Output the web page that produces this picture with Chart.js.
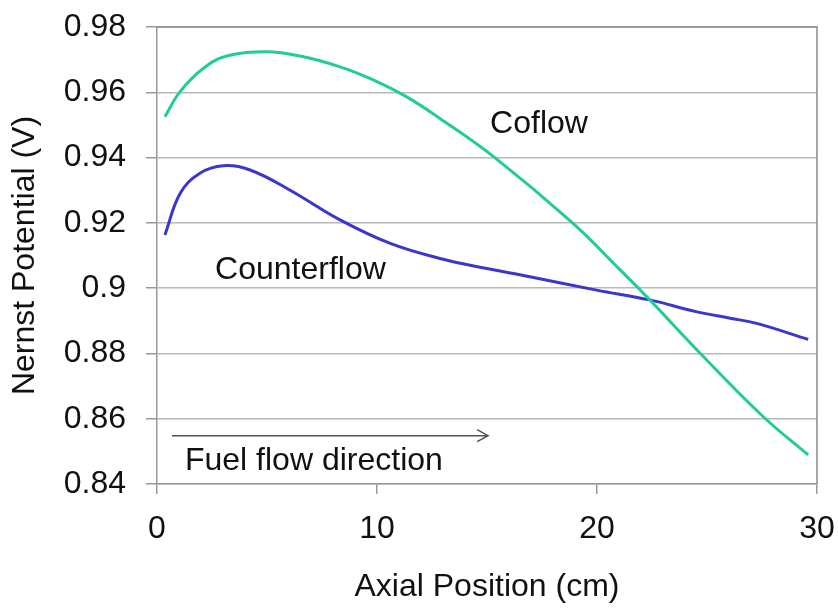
<!DOCTYPE html>
<html>
<head>
<meta charset="utf-8">
<script src="https://cdn.jsdelivr.net/npm/chart.js@4/dist/chart.umd.min.js"></script>
<style>
    body { margin: 0; background: #fff; }
    #box { position: relative; width: 838px; height: 608px; }
</style>
</head>
<body>
<div id="box"><canvas id="nernst"></canvas></div>
<script>
// 軸方向位置 (cm) と ネルンスト電位 (V)
var coflowX = [0.36, 1.05, 2.1, 3.17, 4.98, 6.5, 8.32, 9.83, 11.35, 12.86, 15.3, 18.9, 21.05, 22.4, 24.7, 27.56, 29.6];
var coflowY = [0.9525, 0.9602, 0.9673, 0.9711, 0.9724, 0.9711, 0.9678, 0.9638, 0.9586, 0.952, 0.9403, 0.9199, 0.9056, 0.8964, 0.880, 0.8606, 0.8489];
var counterX = [0.36, 1.05, 1.95, 3.02, 4.23, 6.05, 8.32, 10.6, 12.86, 15.0, 16.95, 19.98, 22.4, 24.5, 26.05, 27.26, 29.6];
var counterY = [0.9163, 0.929, 0.9352, 0.9375, 0.9362, 0.930, 0.9209, 0.9137, 0.9091, 0.906, 0.9035, 0.8994, 0.8964, 0.8928, 0.8908, 0.8892, 0.8843];

var xTicks = [0, 10, 20, 30];
var yTicks = [0.84, 0.86, 0.88, 0.9, 0.92, 0.94, 0.96, 0.98];

// グラフ中のラベル (x, y はデータ座標)
var curveLabels = [
    { text: 'Coflow', x: 15.14, y: 0.9475 },
    { text: 'Counterflow', x: 2.64, y: 0.9028 },
    { text: 'Fuel flow direction', x: 1.27, y: 0.8443 }
];
var flowArrow = { x0: 0.68, x1: 15.05, y: 0.8548 };

function toPoints(xs, ys) {
    var pts = [];
    for (var i = 0; i < xs.length; i++) {
        pts.push({ x: xs[i], y: ys[i] });
    }
    return pts;
}

var FONT = '"Liberation Sans", Arial, sans-serif';
Chart.defaults.font.family = FONT;
Chart.defaults.color = '#111';

// 枠線 (上・右) とラベル、矢印
var notePlugin = {
    id: 'notes',
    afterDatasetsDraw: function (chart) {
        var ctx = chart.ctx;
        var area = chart.chartArea;
        var sx = chart.scales.x;
        var sy = chart.scales.y;

        ctx.save();
        ctx.strokeStyle = '#8a8a8a';
        ctx.lineWidth = 1.5;
        ctx.beginPath();
        ctx.moveTo(area.left, area.top);
        ctx.lineTo(area.right, area.top);
        ctx.lineTo(area.right, area.bottom);
        ctx.stroke();

        ctx.fillStyle = '#111';
        ctx.font = '32px ' + FONT;
        ctx.textAlign = 'left';
        ctx.textBaseline = 'alphabetic';
        for (var i = 0; i < curveLabels.length; i++) {
            var lb = curveLabels[i];
            ctx.fillText(lb.text, sx.getPixelForValue(lb.x), sy.getPixelForValue(lb.y));
        }

        var ax0 = sx.getPixelForValue(flowArrow.x0);
        var ax1 = sx.getPixelForValue(flowArrow.x1);
        var ay = sy.getPixelForValue(flowArrow.y);
        ctx.strokeStyle = '#555';
        ctx.lineWidth = 1.5;
        ctx.beginPath();
        ctx.moveTo(ax0, ay);
        ctx.lineTo(ax1, ay);
        ctx.moveTo(ax1 - 11, ay - 6);
        ctx.lineTo(ax1, ay);
        ctx.lineTo(ax1 - 11, ay + 6);
        ctx.stroke();
        ctx.restore();
    }
};

var data = {
    datasets: [{
            label: 'Coflow',
            data: toPoints(coflowX, coflowY),
            borderColor: '#22cc98',
            borderWidth: 3,
            pointRadius: 0,
            tension: 0.4,
            fill: false
        },
        {
            label: 'Counterflow',
            data: toPoints(counterX, counterY),
            borderColor: '#3b36cc',
            borderWidth: 3,
            pointRadius: 0,
            tension: 0.4,
            fill: false
        }
    ]
};

var options = {
    responsive: true,
    maintainAspectRatio: false,
    animation: false,
    layout: { padding: { top: 27, right: 21, left: 0, bottom: 0 } },
    plugins: {
        legend: { display: false },
        tooltip: { enabled: false }
    },
    scales: {
        x: {
            type: 'linear',
            min: xTicks[0],
            max: xTicks[xTicks.length - 1],
            afterBuildTicks: function (scale) {
                scale.ticks = xTicks.map(function (v) { return { value: v }; });
            },
            afterFit: function (scale) {
                scale.height = 124;
                scale.paddingLeft = 0;
                scale.paddingRight = 0;
            },
            ticks: {
                font: { size: 32 },
                padding: 16,
                maxRotation: 0
            },
            grid: {
                drawOnChartArea: false,
                tickLength: 10,
                tickColor: '#999',
                lineWidth: 1.5
            },
            border: { color: '#999', width: 1.5 },
            title: {
                display: true,
                text: 'Axial Position (cm)',
                font: { size: 32 },
                padding: { top: 0, bottom: 2 }
            }
        },
        y: {
            min: yTicks[0],
            max: yTicks[yTicks.length - 1],
            afterBuildTicks: function (scale) {
                scale.ticks = yTicks.map(function (v) { return { value: v }; });
            },
            afterFit: function (scale) {
                scale.width = 157;
                scale.paddingTop = 0;
                scale.paddingBottom = 0;
            },
            ticks: {
                font: { size: 32 },
                padding: 20,
                callback: function (v) { return parseFloat(v.toFixed(2)).toString(); }
            },
            grid: {
                color: '#b8b8b8',
                lineWidth: 1.5,
                tickLength: 11,
                tickColor: '#999'
            },
            border: { color: '#999', width: 1.5 },
            title: {
                display: true,
                text: 'Nernst Potential (V)',
                font: { size: 32 },
                padding: { top: 6, bottom: 0 }
            }
        }
    }
};

var chart = new Chart(document.getElementById('nernst'), {
    type: 'line',
    data: data,
    options: options,
    plugins: [notePlugin]
});
</script>
</body>
</html>
